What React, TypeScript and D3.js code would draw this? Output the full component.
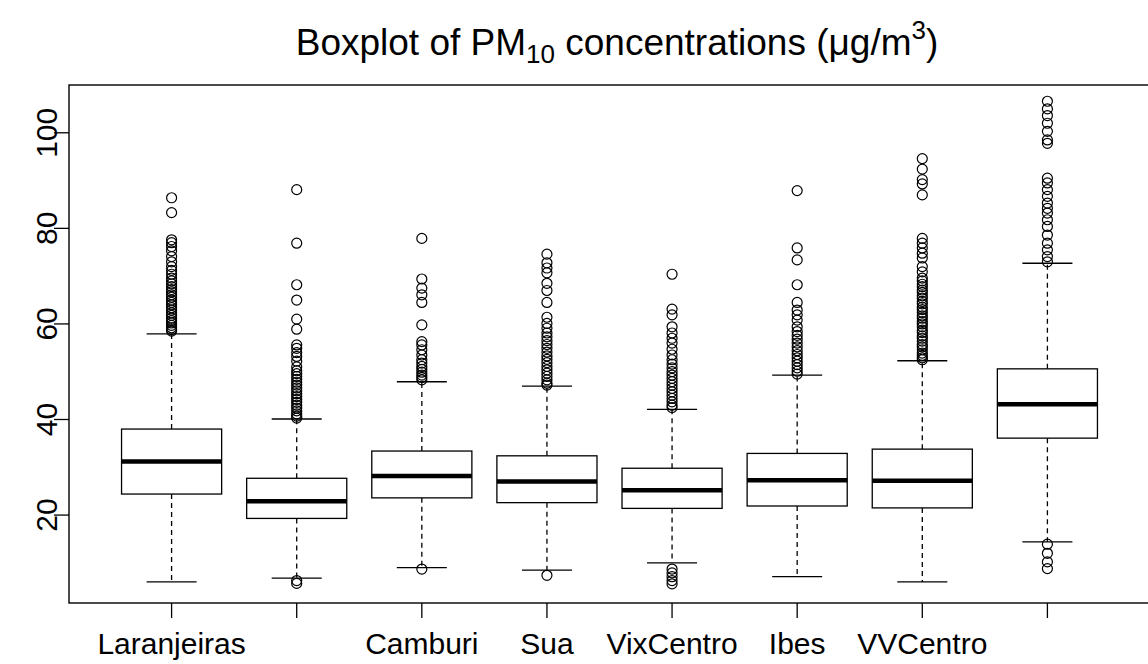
import React from "react";
import * as d3 from "d3";

const categories = ["Laranjeiras", "", "Camburi", "Sua", "VixCentro", "Ibes", "VVCentro", ""];
const whiskerLow = [6.0, 6.8, 9.0, 8.5, 10.0, 7.1, 6.0, 14.4];
const q1 = [24.4, 19.3, 23.6, 22.6, 21.4, 21.9, 21.5, 36.1];
const median = [31.2, 22.9, 28.2, 27.0, 25.2, 27.3, 27.2, 43.2];
const q3 = [38.0, 27.7, 33.4, 32.4, 29.8, 32.9, 33.8, 50.6];
const whiskerHigh = [57.9, 40.1, 47.9, 47.0, 42.1, 49.3, 52.3, 72.7];

const outliers1 = [86.4, 83.3, 77.6, 77.0, 76.2, 75.3, 74.1, 73.0, 72.0, 71.2, 70.4, 69.6, 69.0, 68.4, 67.8, 67.2, 66.7, 66.1, 65.6, 65.0, 64.5, 64.0, 63.4, 62.9, 62.3, 61.8, 61.2, 60.7, 60.2, 59.7, 59.2, 58.8, 58.5];
const outliers2 = [88.1, 76.9, 68.2, 65.0, 61.0, 58.9, 55.6, 54.9, 54.0, 53.2, 52.2, 51.0, 50.2, 49.6, 49.0, 48.4, 47.8, 47.2, 46.6, 46.0, 45.4, 44.8, 44.2, 43.6, 43.0, 42.4, 41.8, 41.2, 40.7, 40.3, 6.3, 5.7];
const outliers3 = [77.9, 69.4, 67.5, 66.1, 64.5, 59.8, 56.3, 55.6, 54.6, 53.5, 52.5, 51.8, 51.1, 50.5, 49.9, 49.3, 48.8, 48.3, 8.7];
const outliers4 = [74.6, 72.8, 71.7, 70.7, 68.5, 67.0, 64.5, 61.4, 60.1, 59.1, 58.1, 57.3, 56.5, 55.7, 54.9, 54.1, 53.3, 52.6, 51.9, 51.1, 50.4, 49.7, 49.0, 48.3, 47.6, 47.2, 7.4];
const outliers5 = [70.4, 63.1, 61.9, 59.4, 58.1, 57.0, 56.0, 54.7, 53.5, 52.5, 51.6, 50.8, 50.0, 49.3, 48.6, 47.9, 47.2, 46.5, 45.8, 45.1, 44.4, 43.7, 43.0, 42.5, 8.7, 7.9, 7.1, 6.3, 5.6];
const outliers6 = [87.9, 75.9, 73.4, 68.2, 64.5, 62.9, 61.9, 60.8, 59.4, 58.4, 57.6, 56.8, 56.0, 55.2, 54.4, 53.6, 52.9, 52.2, 51.5, 50.8, 50.1, 49.5];
const outliers7 = [94.6, 92.4, 90.2, 89.3, 87.0, 77.9, 76.9, 75.9, 74.8, 73.8, 72.0, 70.9, 69.6, 69.0, 68.3, 67.8, 67.1, 66.6, 65.9, 65.4, 64.7, 64.2, 63.5, 63.0, 62.4, 61.7, 61.2, 60.5, 60.0, 59.4, 58.7, 58.2, 57.5, 57.0, 56.4, 55.7, 55.2, 54.6, 53.9, 53.4, 52.9, 52.5];
const outliers8 = [106.6, 105.0, 103.6, 102.0, 100.3, 98.5, 97.8, 90.5, 89.5, 88.1, 86.7, 85.3, 84.2, 83.2, 81.8, 80.4, 78.6, 76.9, 75.5, 74.1, 73.0, 13.9, 12.0, 10.2, 8.8];
const outliers = [outliers1, outliers2, outliers3, outliers4, outliers5, outliers6, outliers7, outliers8];

const yTicks = [20, 40, 60, 80, 100];
const yLimits = [1.6, 110.0];
const xLimits = [0.18, 8.82];

const W = 1148;
const H = 664;
const left = 69;
const right = 1150;
const top = 85;
const bottom = 603;
const FONT = "'Liberation Sans', Arial, Helvetica, sans-serif";

export default function App() {
  const x = d3.scaleLinear().domain(xLimits).range([left, right]);
  const y = d3.scaleLinear().domain(yLimits).range([bottom, top]);
  const boxHalf = x(1.4) - x(1);
  const stapleHalf = x(1.2) - x(1);
  const lw = 1.3;

  return (
    <svg width={W} height={H} style={{ position: "absolute", left: 0, top: 0, background: "#fff" }} fontFamily={FONT}>
      <rect x={0} y={0} width={W} height={H} fill="#fff" />
      {/* title */}
      <text x={617} y={55} fontSize={37} textAnchor="middle" fill="#000">
        Boxplot of PM<tspan fontSize={26} dy={8}>10</tspan>
        <tspan dy={-8}> concentrations (μg/m</tspan>
        <tspan fontSize={26} dy={-16}>3</tspan>
        <tspan dy={16}>)</tspan>
      </text>

      {categories.map((c, i) => {
        const cx = x(i + 1);
        const pts = outliers[i];
        return (
          <g key={i}>
            <line x1={cx} x2={cx} y1={y(q3[i])} y2={y(whiskerHigh[i])} stroke="#000" strokeWidth={lw} strokeDasharray="5,4" />
            <line x1={cx} x2={cx} y1={y(q1[i])} y2={y(whiskerLow[i])} stroke="#000" strokeWidth={lw} strokeDasharray="5,4" />
            <line x1={cx - stapleHalf} x2={cx + stapleHalf} y1={y(whiskerHigh[i])} y2={y(whiskerHigh[i])} stroke="#000" strokeWidth={lw} />
            <line x1={cx - stapleHalf} x2={cx + stapleHalf} y1={y(whiskerLow[i])} y2={y(whiskerLow[i])} stroke="#000" strokeWidth={lw} />
            <rect x={cx - boxHalf} y={y(q3[i])} width={2 * boxHalf} height={y(q1[i]) - y(q3[i])} fill="#fff" stroke="#000" strokeWidth={lw} />
            <line x1={cx - boxHalf} x2={cx + boxHalf} y1={y(median[i])} y2={y(median[i])} stroke="#000" strokeWidth={4.5} />
            {pts.map((v, j) => (
              <circle key={j} cx={cx} cy={y(v)} r={5} fill="none" stroke="#000" strokeWidth={1.2} />
            ))}
          </g>
        );
      })}

      {/* frame */}
      <rect x={left} y={top} width={right - left} height={bottom - top} fill="none" stroke="#000" strokeWidth={1.4} />

      {/* y axis */}
      {yTicks.map((t) => (
        <g key={t}>
          <line x1={left - 15} x2={left} y1={y(t)} y2={y(t)} stroke="#000" strokeWidth={lw} />
          <text transform={`translate(${left - 12},${y(t)}) rotate(-90)`} textAnchor="middle" fontSize={30} fill="#000">
            {t}
          </text>
        </g>
      ))}

      {/* x axis */}
      {categories.map((c, i) => (
        <g key={"x" + i}>
          <line x1={x(i + 1)} x2={x(i + 1)} y1={bottom} y2={bottom + 15} stroke="#000" strokeWidth={lw} />
          {c ? (
            <text x={x(i + 1)} y={654} textAnchor="middle" fontSize={30} fill="#000">
              {c}
            </text>
          ) : null}
        </g>
      ))}
    </svg>
  );
}
